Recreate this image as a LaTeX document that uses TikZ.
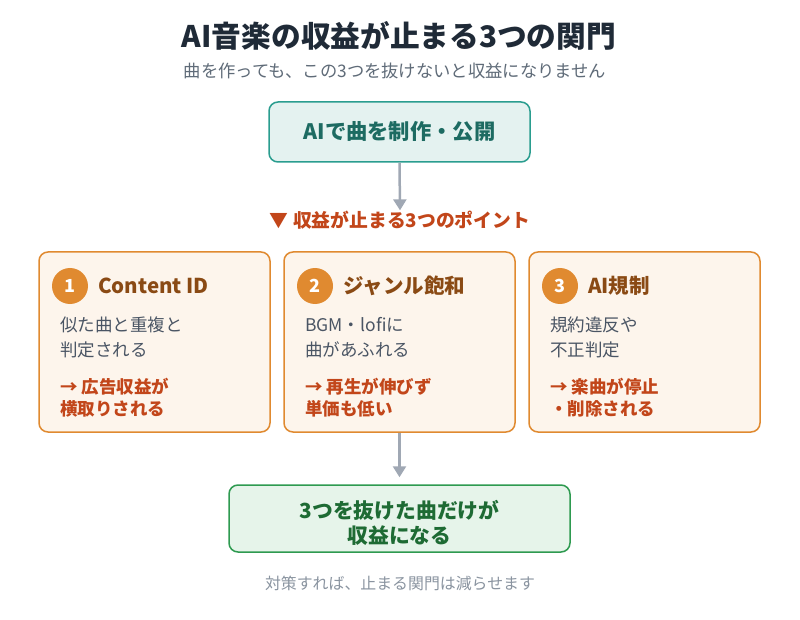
\documentclass[tikz,border=0pt]{standalone}
\usepackage{fontspec}
\setmainfont{Noto Sans CJK JP}
\usetikzlibrary{arrows.meta}
\definecolor{titlec}{HTML}{1F2A37}
\definecolor{subc}{HTML}{5F6B78}
\definecolor{tealfill}{HTML}{E4F2F0}
\definecolor{tealdraw}{HTML}{2A9D8F}
\definecolor{tealtext}{HTML}{1D6B62}
\definecolor{arrowc}{HTML}{A0A8B4}
\definecolor{redc}{HTML}{C2461A}
\definecolor{cardfill}{HTML}{FDF5EC}
\definecolor{carddraw}{HTML}{E08A30}
\definecolor{brownc}{HTML}{8A4A14}
\definecolor{bodyc}{HTML}{4A5564}
\definecolor{greenfill}{HTML}{E6F4EA}
\definecolor{greendraw}{HTML}{2E9A50}
\definecolor{greentext}{HTML}{1E6B34}
\definecolor{footc}{HTML}{8A94A0}
\tikzset{
  card/.style={draw=carddraw, fill=cardfill, line width=1.5pt, rounded corners=9pt, minimum width=231pt, minimum height=180pt},
  badge/.style={circle, fill=carddraw, minimum size=36pt, inner sep=0pt, text=white, font=\fontsize{18}{20}\selectfont\bfseries},
  cardhead/.style={anchor=west, inner sep=0pt, text=brownc, font=\fontsize{20.5}{22}\selectfont\bfseries},
  cardbody/.style={anchor=west, inner sep=0pt, align=left, text=bodyc, font=\fontsize{17.5}{25}\selectfont},
  cardred/.style={anchor=west, inner sep=0pt, align=left, text=redc, font=\fontsize{17.5}{21.5}\selectfont\bfseries},
  flowarrow/.style={draw=arrowc, line width=2.5pt, -{Triangle[length=11pt,width=13pt]}},
}
\begin{document}
\begin{tikzpicture}[x=1pt,y=-1pt]
\useasboundingbox[fill=white] (0,0) rectangle (800,620);

\node[text=titlec, font=\fontsize{29.7}{32}\selectfont\bfseries] (title) at (399,36) {AI音楽の収益が止まる3つの関門};
\node[text=subc, font=\fontsize{17.3}{19}\selectfont] (sub) at (395,71) {曲を作っても、この3つを抜けないと収益になりません};

\node[draw=tealdraw, fill=tealfill, line width=1.5pt, rounded corners=9pt, minimum width=261pt, minimum height=60pt, text=tealtext, font=\fontsize{21.3}{23}\selectfont\bfseries] (top) at (399.5,132) {AIで曲を制作・公開};

\node[text=redc, font=\fontsize{18.8}{21}\selectfont\bfseries] (points) at (400,220) {▼ 収益が止まる3つのポイント};
\draw[flowarrow] (top.south) -- ([yshift=-3pt]points.north);

% cards
\node[card] (c1) at (154.5,342) {};
\node[card] (c2) at (399.5,342) {};
\node[card] (c3) at (644.5,342) {};

\node[badge] (b1) at (70,286) {1};
\node[cardhead] (h1) at (98,286) {Content ID};
\node[cardbody] (t1) at (60,337.5) {似た曲と重複と\\判定される};
\node[cardred] (r1) at (60,397.5) {→ 広告収益が\\横取りされる};

\node[badge] (b2) at (315,286) {2};
\node[cardhead] (h2) at (343,286) {ジャンル飽和};
\node[cardbody] (t2) at (305,337.5) {BGM・lofiに\\曲があふれる};
\node[cardred] (r2) at (305,397.5) {→ 再生が伸びず\\単価も低い};

\node[badge] (b3) at (560,286) {3};
\node[cardhead] (h3) at (588,286) {AI規制};
\node[cardbody] (t3) at (550,337.5) {規約違反や\\不正判定};
\node[cardred] (r3) at (550,397.5) {→ 楽曲が停止\\・削除される};

\node[draw=greendraw, fill=greenfill, line width=1.5pt, rounded corners=9pt, minimum width=341pt, minimum height=67pt] (goal) at (399.5,518.5) {};
\node[align=center, inner sep=0pt, text=greentext, font=\fontsize{20.8}{25.5}\selectfont\bfseries] (goaltext) at (399.5,523) {3つを抜けた曲だけが\\収益になる};
\draw[flowarrow, shorten >=7pt] (c2.south) -- (goal.north);

\node[text=footc, font=\fontsize{15.9}{18}\selectfont] (foot) at (400,583) {対策すれば、止まる関門は減らせます};
\end{tikzpicture}
\end{document}
